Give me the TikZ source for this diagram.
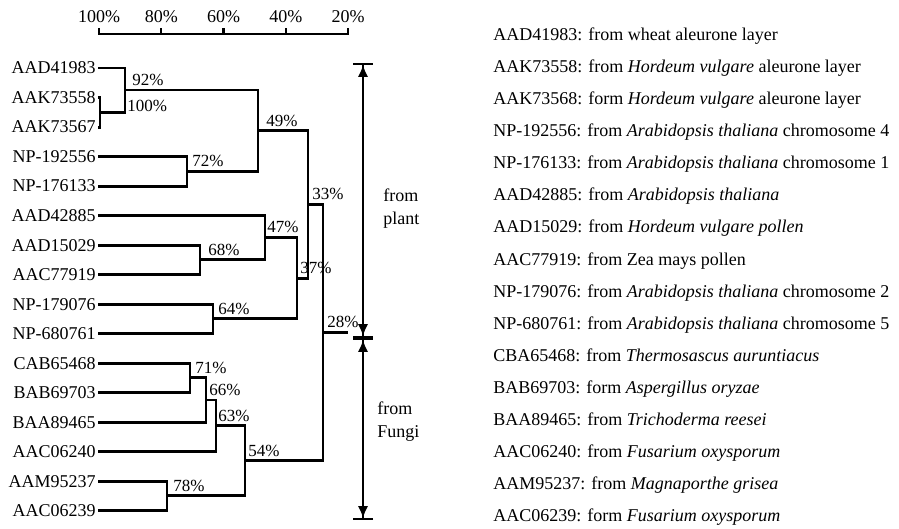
\documentclass[tikz,border=0pt]{standalone}
\usepackage{fontspec}
\setmainfont{Liberation Serif}
\usepackage{tikz}
\usetikzlibrary{arrows.meta,positioning}
\tikzset{
  branch/.style={line width=1.4pt, draw=black},
  scaleline/.style={line width=1.2pt, draw=black},
  dimline/.style={
    line width=0.9pt,
    {Bar[width=10pt] Latex[length=6pt,width=5pt]}-{Latex[length=6pt,width=5pt] Bar[width=10pt]}
  },
  leaf/.style={anchor=base east, inner xsep=1pt, inner ysep=0pt, font=\fontsize{9}{11}\selectfont},
  note/.style={anchor=base west, inner sep=0pt, font=\fontsize{9}{11}\selectfont},
  pct/.style={inner sep=0pt, font=\fontsize{8.5}{10}\selectfont},
  scalelabel/.style={anchor=base, inner sep=0pt, font=\fontsize{9}{11}\selectfont},
  grouplabel/.style={anchor=west, align=left, inner sep=0pt, font=\fontsize{9}{11.5}\selectfont}
}

\begin{document}
\begin{tikzpicture}[x=0.5pt,y=-0.5pt]
  \useasboundingbox (0,0) rectangle (899,529);

  % Scale
  \draw[scaleline] (99,28) -- (99,34) -- (348,34) -- (348,28);
  \foreach \p in {100,80,60,40,20} {
    \draw[scaleline] ({99+(100-\p)*3.1125},34) -- ++(0,-6);
    \node[scalelabel] (s\p) at ({99+(100-\p)*3.1125},23) {\p\%};
  }

  % Sequences
  \foreach \acc [count=\i from 0] in {AAD41983,AAK73558,AAK73567,NP-192556,NP-176133,AAD42885,AAD15029,AAC77919,NP-179076,NP-680761,CAB65468,BAB69703,BAA89465,AAC06240,AAM95237,AAC06239}
    \node[leaf] (l\i) at (98,{74+29.5*\i}) {\acc};

  % Junctions
  \coordinate (n100) at (100,112.25);
  \coordinate (n92) at (125,90.1);
  \coordinate (n72) at (187,171.25);
  \coordinate (n49) at (258,130.7);
  \coordinate (n68) at (200,259.75);
  \coordinate (n47) at (265,237.6);
  \coordinate (n64) at (213,318.75);
  \coordinate (n37) at (297,278.2);
  \coordinate (n33) at (308,204.4);
  \coordinate (n71) at (190,377.75);
  \coordinate (n66) at (206,399.9);
  \coordinate (n63) at (216,425.7);
  \coordinate (n78) at (167,495.75);
  \coordinate (n54) at (245,460.7);
  \coordinate (n28) at (323,332.6);
  \coordinate (rootend) at (348,332.6);

  % Branches
  \foreach \a/\b in {l1.east/n100,l2.east/n100,l0.east/n92,n100/n92,l3.east/n72,l4.east/n72,
      n92/n49,n72/n49,l6.east/n68,l7.east/n68,l5.east/n47,n68/n47,l8.east/n64,l9.east/n64,
      n47/n37,n64/n37,n49/n33,n37/n33,l10.east/n71,l11.east/n71,n71/n66,l12.east/n66,
      n66/n63,l13.east/n63,l14.east/n78,l15.east/n78,n63/n54,n78/n54,n33/n28,n54/n28}
    \draw[branch] (\a) -| (\b);
  \draw[branch] (n28) -- (rootend);

  % Similarity
  \node[pct,above right=2pt and 3.5pt of n92] (p92) {92\%};
  \node[pct,below right=5pt and 1pt of n92] (p100) {100\%};
  \node[pct,above right=2pt and 2.5pt of n72] (p72) {72\%};
  \node[pct,above right=2pt and 4pt of n49] (p49) {49\%};
  \node[pct,above right=2pt and 4pt of n68] (p68) {68\%};
  \node[pct,above right=2pt and 1pt of n47] (p47) {47\%};
  \node[pct,above right=2pt and 2.5pt of n64] (p64) {64\%};
  \node[pct,above right=2pt and 1.5pt of n37] (p37) {37\%};
  \node[pct,above right=2pt and 2pt of n33] (p33) {33\%};
  \node[pct,above right=2pt and 2.5pt of n71] (p71) {71\%};
  \node[pct,above right=2pt and 1.5pt of n66] (p66) {66\%};
  \node[pct,above right=2pt and 1pt of n63] (p63) {63\%};
  \node[pct,above right=2pt and 1.5pt of n54] (p54) {54\%};
  \node[pct,above right=2pt and 3pt of n78] (p78) {78\%};
  \node[pct,above right=2pt and 2pt of n28] (p28) {28\%};

  % Groups
  \coordinate (ptop) at (363,63);
  \coordinate (pmid) at (363,338);
  \coordinate (pbot) at (363,520);
  \draw[dimline] (ptop) -- (pmid);
  \draw[dimline] (pmid) -- (pbot);
  \node[grouplabel] (plant) at (383,208.5) {from\\plant};
  \node[grouplabel] (fungi) at (377,421.5) {from\\Fungi};

  % Sources
  \foreach \txt [count=\i from 0] in {
      {AAD41983: from wheat aleurone layer},
      {AAK73558: from \textit{Hordeum vulgare} aleurone layer},
      {AAK73568: form \textit{Hordeum vulgare} aleurone layer},
      {NP-192556: from \textit{Arabidopsis thaliana} chromosome 4},
      {NP-176133: from \textit{Arabidopsis thaliana} chromosome 1},
      {AAD42885: from \textit{Arabidopsis thaliana}},
      {AAD15029: from \textit{Hordeum vulgare pollen}},
      {AAC77919: from Zea mays pollen},
      {NP-179076: from \textit{Arabidopsis thaliana} chromosome 2},
      {NP-680761: from \textit{Arabidopsis thaliana} chromosome 5},
      {CBA65468: from \textit{Thermosascus auruntiacus}},
      {BAB69703: form \textit{Aspergillus oryzae}},
      {BAA89465: from \textit{Trichoderma reesei}},
      {AAC06240: from \textit{Fusarium oxysporum}},
      {AAM95237: from \textit{Magnaporthe grisea}},
      {AAC06239: form \textit{Fusarium oxysporum}}}
    \node[note] (d\i) at (493,{41+32*\i}) {\txt};
\end{tikzpicture}
\end{document}
